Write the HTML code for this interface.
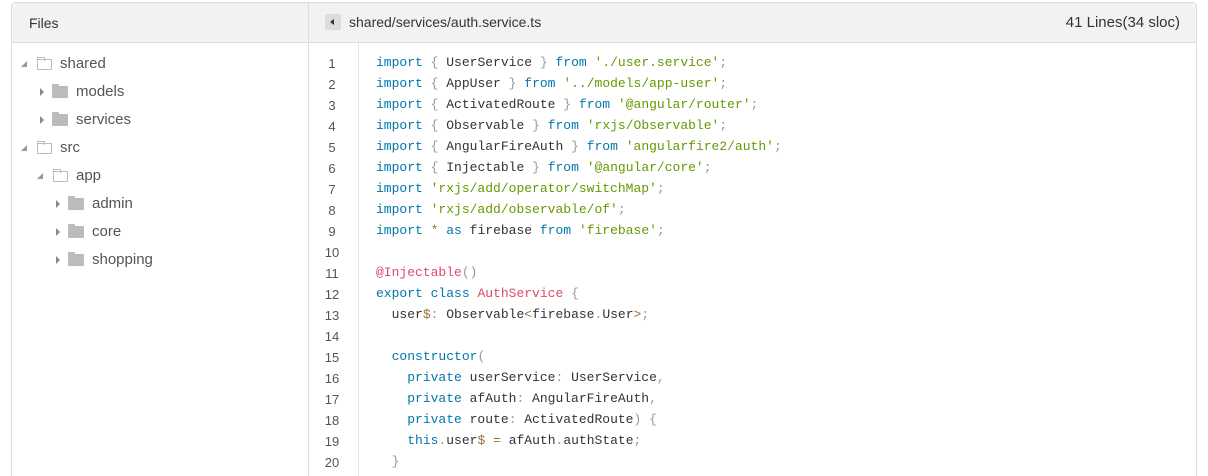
<!DOCTYPE html>
<html style="width:1208px;height:476px;overflow:hidden"><head><style>
*{margin:0;padding:0;box-sizing:border-box}
html,body{width:1208px;height:476px;overflow:hidden}
body{background:#fff;position:relative;font-family:"Liberation Sans",sans-serif}
.box{position:absolute;left:11px;top:2px;width:1186px;height:474px;border:1px solid #ddd;border-bottom:none;border-radius:4px 4px 0 0}
.hdr{position:absolute;left:12px;top:3px;width:1184px;height:40px;background:#f3f2f2;border-bottom:1px solid #ddd}
.vl{position:absolute;left:308px;top:3px;width:1px;height:473px;background:#ddd}
.gl{position:absolute;left:358px;top:43px;width:1px;height:433px;background:#e6e6e6}
.t{position:absolute;font-size:15px;color:#444}
.tr{position:absolute;font-size:15px;color:#555;height:28px;line-height:28px}
.arr{position:absolute;width:0;height:0}
.ar{border-left:4px solid #888;border-top:4px solid transparent;border-bottom:4px solid transparent}
.ad{border-right:6px solid #999;border-top:6px solid transparent}
.fc{position:absolute;width:16px;height:12px;background:#bbb;border-radius:1px}
.fc:before{content:"";position:absolute;left:0;top:-2px;width:7px;height:3px;background:#bbb;border-radius:1px 1px 0 0}
.fo{position:absolute;width:15px;height:11px;border:1.5px solid #bbb;border-radius:1px}
.fo:before{content:"";position:absolute;left:-1.5px;top:-3.5px;width:6px;height:3px;border:1.5px solid #bbb;border-bottom:none}
.ln{position:absolute;left:312px;width:40px;text-align:center;font-family:"Liberation Sans",sans-serif;font-size:13px;color:#555}
.cd{position:absolute;left:376px;font-family:"Liberation Mono",monospace;font-size:13px;color:#333;white-space:pre}
.k{color:#07a}.s{color:#690}.p{color:#999}.f{color:#dd4a68}.o{color:#9a6e3a}
</style></head><body>
<div class="box"></div><div class="hdr"></div><div class="vl"></div><div class="gl"></div>
<div class="t" style="left:29px;top:15px;font-size:14px;color:#333">Files</div>
<div style="position:absolute;left:325px;top:14px;width:16px;height:16px;background:#ddd;border-radius:2px"></div>
<div class="arr" style="left:330px;top:19px;border-right:4px solid #333;border-top:3px solid transparent;border-bottom:3px solid transparent"></div>
<div class="t" style="left:349px;top:14px;font-size:14px;color:#333">shared/services/auth.service.ts</div>
<div class="t" style="right:28px;top:14px;font-size:15px;color:#333">41 Lines(34 sloc)</div>

<div class="arr ad" style="left:21px;top:61px"></div><div class="fo" style="left:37px;top:59px"></div><div class="tr" style="left:60px;top:50px">shared</div>
<div class="arr ar" style="left:40px;top:88px"></div><div class="fc" style="left:52px;top:86px"></div><div class="tr" style="left:76px;top:78px">models</div>
<div class="arr ar" style="left:40px;top:116px"></div><div class="fc" style="left:52px;top:114px"></div><div class="tr" style="left:76px;top:106px">services</div>
<div class="arr ad" style="left:21px;top:145px"></div><div class="fo" style="left:37px;top:143px"></div><div class="tr" style="left:60px;top:134px">src</div>
<div class="arr ad" style="left:37px;top:173px"></div><div class="fo" style="left:53px;top:171px"></div><div class="tr" style="left:76px;top:162px">app</div>
<div class="arr ar" style="left:56px;top:200px"></div><div class="fc" style="left:68px;top:198px"></div><div class="tr" style="left:92px;top:190px">admin</div>
<div class="arr ar" style="left:56px;top:228px"></div><div class="fc" style="left:68px;top:226px"></div><div class="tr" style="left:92px;top:218px">core</div>
<div class="arr ar" style="left:56px;top:256px"></div><div class="fc" style="left:68px;top:254px"></div><div class="tr" style="left:92px;top:246px">shopping</div>

<div class="ln" style="top:56px">1</div><div class="cd" style="top:55px"><span class="k">import</span> <span class="p">{</span> UserService <span class="p">}</span> <span class="k">from</span> <span class="s">'./user.service'</span><span class="p">;</span></div>
<div class="ln" style="top:77px">2</div><div class="cd" style="top:76px"><span class="k">import</span> <span class="p">{</span> AppUser <span class="p">}</span> <span class="k">from</span> <span class="s">'../models/app-user'</span><span class="p">;</span></div>
<div class="ln" style="top:98px">3</div><div class="cd" style="top:97px"><span class="k">import</span> <span class="p">{</span> ActivatedRoute <span class="p">}</span> <span class="k">from</span> <span class="s">'@angular/router'</span><span class="p">;</span></div>
<div class="ln" style="top:119px">4</div><div class="cd" style="top:118px"><span class="k">import</span> <span class="p">{</span> Observable <span class="p">}</span> <span class="k">from</span> <span class="s">'rxjs/Observable'</span><span class="p">;</span></div>
<div class="ln" style="top:140px">5</div><div class="cd" style="top:139px"><span class="k">import</span> <span class="p">{</span> AngularFireAuth <span class="p">}</span> <span class="k">from</span> <span class="s">'angularfire2/auth'</span><span class="p">;</span></div>
<div class="ln" style="top:161px">6</div><div class="cd" style="top:160px"><span class="k">import</span> <span class="p">{</span> Injectable <span class="p">}</span> <span class="k">from</span> <span class="s">'@angular/core'</span><span class="p">;</span></div>
<div class="ln" style="top:182px">7</div><div class="cd" style="top:181px"><span class="k">import</span> <span class="s">'rxjs/add/operator/switchMap'</span><span class="p">;</span></div>
<div class="ln" style="top:203px">8</div><div class="cd" style="top:202px"><span class="k">import</span> <span class="s">'rxjs/add/observable/of'</span><span class="p">;</span></div>
<div class="ln" style="top:224px">9</div><div class="cd" style="top:223px"><span class="k">import</span> <span class="o">*</span> <span class="k">as</span> firebase <span class="k">from</span> <span class="s">'firebase'</span><span class="p">;</span></div>
<div class="ln" style="top:245px">10</div>
<div class="ln" style="top:266px">11</div><div class="cd" style="top:265px"><span class="f">@Injectable</span><span class="p">()</span></div>
<div class="ln" style="top:287px">12</div><div class="cd" style="top:286px"><span class="k">export</span> <span class="k">class</span> <span class="f">AuthService</span> <span class="p">{</span></div>
<div class="ln" style="top:308px">13</div><div class="cd" style="top:307px">  user<span class="o">$</span><span class="p">:</span> Observable<span class="o">&lt;</span>firebase<span class="p">.</span>User<span class="o">&gt;</span><span class="p">;</span></div>
<div class="ln" style="top:329px">14</div>
<div class="ln" style="top:350px">15</div><div class="cd" style="top:349px">  <span class="k">constructor</span><span class="p">(</span></div>
<div class="ln" style="top:371px">16</div><div class="cd" style="top:370px">    <span class="k">private</span> userService<span class="p">:</span> UserService<span class="p">,</span></div>
<div class="ln" style="top:392px">17</div><div class="cd" style="top:391px">    <span class="k">private</span> afAuth<span class="p">:</span> AngularFireAuth<span class="p">,</span></div>
<div class="ln" style="top:413px">18</div><div class="cd" style="top:412px">    <span class="k">private</span> route<span class="p">:</span> ActivatedRoute<span class="p">)</span> <span class="p">{</span></div>
<div class="ln" style="top:434px">19</div><div class="cd" style="top:433px">    <span class="k">this</span><span class="p">.</span>user<span class="o">$</span> <span class="o">=</span> afAuth<span class="p">.</span>authState<span class="p">;</span></div>
<div class="ln" style="top:455px">20</div><div class="cd" style="top:454px">  <span class="p">}</span></div>
</body></html>
